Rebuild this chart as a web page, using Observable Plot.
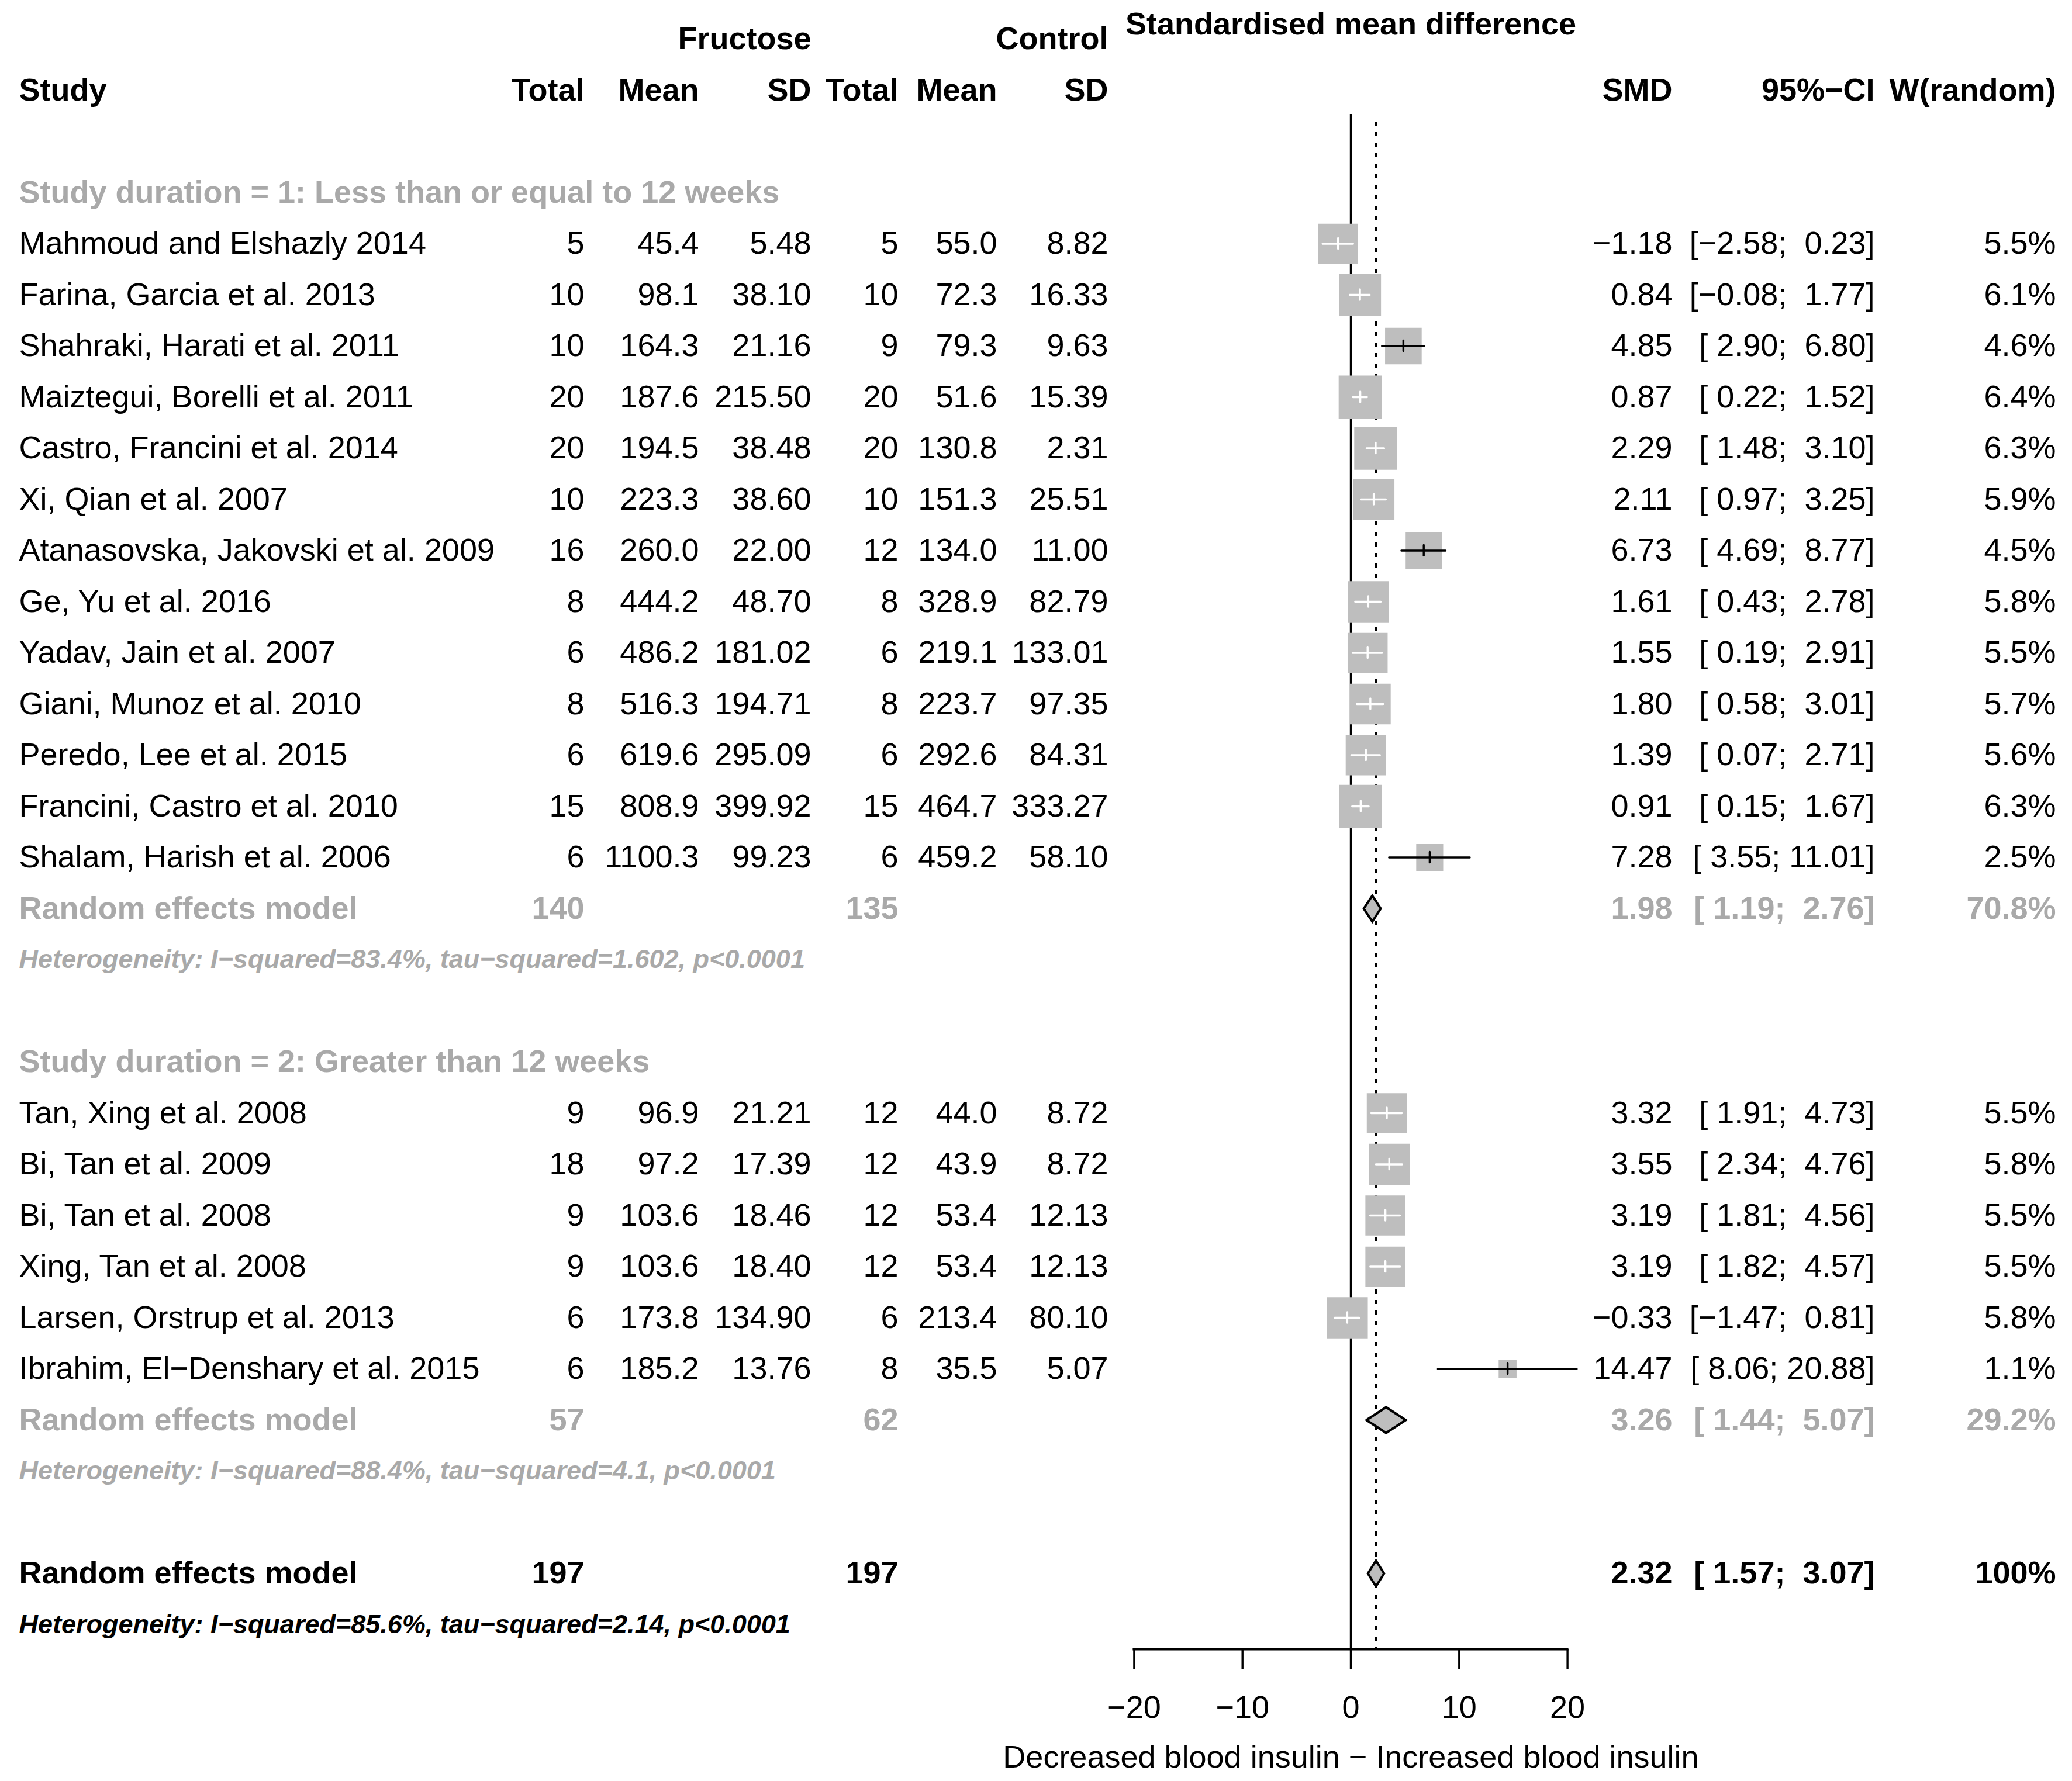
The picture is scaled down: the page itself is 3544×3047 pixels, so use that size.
<!DOCTYPE html>
<html>
<head>
<meta charset="utf-8">
<script src="https://cdn.jsdelivr.net/npm/d3@7"></script>
<script src="https://cdn.jsdelivr.net/npm/@observablehq/plot@0.6"></script>
<style>
  html, body { margin: 0; padding: 0; background: #ffffff; }
  svg { display: block; }
</style>
</head>
<body>
<div id="chart"></div>
<script>
// ---------------- DATA ----------------
const studyNames = [
  "Mahmoud and Elshazly 2014",
  "Farina, Garcia et al. 2013",
  "Shahraki, Harati et al. 2011",
  "Maiztegui, Borelli et al. 2011",
  "Castro, Francini et al. 2014",
  "Xi, Qian et al. 2007",
  "Atanasovska, Jakovski et al. 2009",
  "Ge, Yu et al. 2016",
  "Yadav, Jain et al. 2007",
  "Giani, Munoz et al. 2010",
  "Peredo, Lee et al. 2015",
  "Francini, Castro et al. 2010",
  "Shalam, Harish et al. 2006",
  "Tan, Xing et al. 2008",
  "Bi, Tan et al. 2009",
  "Bi, Tan et al. 2008",
  "Xing, Tan et al. 2008",
  "Larsen, Orstrup et al. 2013",
  "Ibrahim, El\u2212Denshary et al. 2015"
];
const studyGroup     = [1,1,1,1,1,1,1,1,1,1,1,1,1, 2,2,2,2,2,2];
const fructoseTotal  = [5, 10, 10, 20, 20, 10, 16, 8, 6, 8, 6, 15, 6, 9, 18, 9, 9, 6, 6];
const fructoseMean   = [45.4, 98.1, 164.3, 187.6, 194.5, 223.3, 260.0, 444.2, 486.2, 516.3, 619.6, 808.9, 1100.3, 96.9, 97.2, 103.6, 103.6, 173.8, 185.2];
const fructoseSD     = [5.48, 38.10, 21.16, 215.50, 38.48, 38.60, 22.00, 48.70, 181.02, 194.71, 295.09, 399.92, 99.23, 21.21, 17.39, 18.46, 18.40, 134.90, 13.76];
const controlTotal   = [5, 10, 9, 20, 20, 10, 12, 8, 6, 8, 6, 15, 6, 12, 12, 12, 12, 6, 8];
const controlMean    = [55.0, 72.3, 79.3, 51.6, 130.8, 151.3, 134.0, 328.9, 219.1, 223.7, 292.6, 464.7, 459.2, 44.0, 43.9, 53.4, 53.4, 213.4, 35.5];
const controlSD      = [8.82, 16.33, 9.63, 15.39, 2.31, 25.51, 11.00, 82.79, 133.01, 97.35, 84.31, 333.27, 58.10, 8.72, 8.72, 12.13, 12.13, 80.10, 5.07];
const smdValues      = [-1.18, 0.84, 4.85, 0.87, 2.29, 2.11, 6.73, 1.61, 1.55, 1.80, 1.39, 0.91, 7.28, 3.32, 3.55, 3.19, 3.19, -0.33, 14.47];
const ciLower        = [-2.58, -0.08, 2.90, 0.22, 1.48, 0.97, 4.69, 0.43, 0.19, 0.58, 0.07, 0.15, 3.55, 1.91, 2.34, 1.81, 1.82, -1.47, 8.06];
const ciUpper        = [0.23, 1.77, 6.80, 1.52, 3.10, 3.25, 8.77, 2.78, 2.91, 3.01, 2.71, 1.67, 11.01, 4.73, 4.76, 4.56, 4.57, 0.81, 20.88];
const weightRandom   = [5.5, 6.1, 4.6, 6.4, 6.3, 5.9, 4.5, 5.8, 5.5, 5.7, 5.6, 6.3, 2.5, 5.5, 5.8, 5.5, 5.5, 5.8, 1.1];

const groupLabels = [
  "Study duration = 1: Less than or equal to 12 weeks",
  "Study duration = 2: Greater than 12 weeks"
];
const groupTotalF  = [140, 57];
const groupTotalC  = [135, 62];
const groupSMD     = [1.98, 3.26];
const groupLower   = [1.19, 1.44];
const groupUpper   = [2.76, 5.07];
const groupWeight  = [70.8, 29.2];
const groupHet = [
  "Heterogeneity: I\u2212squared=83.4%, tau\u2212squared=1.602, p<0.0001",
  "Heterogeneity: I\u2212squared=88.4%, tau\u2212squared=4.1, p<0.0001"
];

const overallLabel  = "Random effects model";
const overallTotalF = 197;
const overallTotalC = 197;
const overallSMD    = 2.32;
const overallLower  = 1.57;
const overallUpper  = 3.07;
const overallWeight = 100;
const overallHet    = "Heterogeneity: I\u2212squared=85.6%, tau\u2212squared=2.14, p<0.0001";

const groupHeaderTop = ["Fructose", "Control"];
const columnHeaders  = ["Study", "Total", "Mean", "SD", "Total", "Mean", "SD", "SMD", "95%\u2212CI", "W(random)"];
const xTicks = [-20, -10, 0, 10, 20];
const plotTitle = "Standardised mean difference";
const axisLabel = "Decreased blood insulin \u2212 Increased blood insulin";

// ---------------- LAYOUT ----------------
const W = 3544, H = 3047;
const rowTop = 154, rowH = 87.5;
const xLeftPx = 1939.4, xRightPx = 2680.6;
const axisPx = 2821;
const marginLeft = xLeftPx, marginRight = W - xRightPx, marginBottom = H - axisPx;
const pxPerUnit = (xRightPx - xLeftPx) / 40;
const colPx     = [32, 999, 1195, 1387, 1536, 1705, 1895, 2860, 3206, 3516];
const colAnchor = ["start", "end", "end", "end", "end", "end", "end", "end", "end", "end"];
const FS = 54, FS_HET = 45;
const GRAY_TXT = "#a9a9a9", SQ = "#bebebe", LW = 3.4;
const NB = "\u00a0";

const fmt = (v, d) => v.toFixed(d).replace("-", "\u2212");
const pad = (s, n) => s.padStart(n, NB);
const ciText = (lo, hi) => "[" + pad(fmt(lo, 2), 5) + ";" + NB + pad(fmt(hi, 2), 5) + "]";
const wText = w => (Number.isInteger(w) ? String(w) : w.toFixed(1)) + "%";
const sidePx = w => 29.2 * Math.sqrt(w);

// ---------------- BUILD ROWS ----------------
const cells = [];
const studyData = [];
const summaries = [];
const add = (row, col, text, fill, style) => cells.push({row, col, text, fill, style});

add(-1, 3, groupHeaderTop[0], "black", "bold");
add(-1, 6, groupHeaderTop[1], "black", "bold");
columnHeaders.forEach((h, c) => add(0, c, h, "black", "bold"));

let r = 0;
[1, 2].forEach((g, gi) => {
  r += 2;
  add(r, 0, groupLabels[gi], GRAY_TXT, "bold");
  studyNames.forEach((name, i) => {
    if (studyGroup[i] !== g) return;
    r += 1;
    const vals = [name, String(fructoseTotal[i]), fructoseMean[i].toFixed(1), fructoseSD[i].toFixed(2),
      String(controlTotal[i]), controlMean[i].toFixed(1), controlSD[i].toFixed(2),
      fmt(smdValues[i], 2), ciText(ciLower[i], ciUpper[i]), wText(weightRandom[i])];
    vals.forEach((v, c) => add(r, c, v, "black", "normal"));
    const half = sidePx(weightRandom[i]) / 2 / pxPerUnit;
    const inside = ciLower[i] >= smdValues[i] - half && ciUpper[i] <= smdValues[i] + half;
    studyData.push({row: r, smd: smdValues[i], lo: ciLower[i], hi: ciUpper[i], w: weightRandom[i],
      col: inside ? "white" : "black"});
  });
  r += 1;
  [overallLabel, String(groupTotalF[gi]), "", "", String(groupTotalC[gi]), "", "",
    fmt(groupSMD[gi], 2), ciText(groupLower[gi], groupUpper[gi]), wText(groupWeight[gi])]
    .forEach((v, c) => v && add(r, c, v, GRAY_TXT, "bold"));
  summaries.push({id: "g" + g, row: r, est: groupSMD[gi], lo: groupLower[gi], hi: groupUpper[gi]});
  r += 1;
  add(r, 0, groupHet[gi], GRAY_TXT, "het");
});
r += 2;
[overallLabel, String(overallTotalF), "", "", String(overallTotalC), "", "",
  fmt(overallSMD, 2), ciText(overallLower, overallUpper), wText(overallWeight)]
  .forEach((v, c) => v && add(r, c, v, "black", "bold"));
summaries.push({id: "all", row: r, est: overallSMD, lo: overallLower, hi: overallUpper});
r += 1;
add(r, 0, overallHet, "black", "het");
const lastRow = r;

const toRow = px => (px - rowTop) / rowH;
const axisRow = toRow(axisPx);
const dHalf = 22 / rowH;
const diamondPts = summaries.flatMap(s => [
  {id: s.id, x: s.lo, y: s.row}, {id: s.id, x: s.est, y: s.row - dHalf},
  {id: s.id, x: s.hi, y: s.row}, {id: s.id, x: s.est, y: s.row + dHalf},
  {id: s.id, x: s.lo, y: s.row}
]);
const tHalf = 9 / rowH;

// ---------------- MARKS ----------------
const textMarks = [];
const styles = {
  normal: {fontWeight: "normal", fontStyle: "normal", fontSize: FS},
  bold:   {fontWeight: "bold", fontStyle: "normal", fontSize: FS},
  het:    {fontWeight: "bold", fontStyle: "italic", fontSize: FS_HET}
};
colPx.forEach((px, c) => {
  Object.entries(styles).forEach(([key, st]) => {
    const sub = cells.filter(d => d.col === c && d.style === key);
    if (!sub.length) return;
    textMarks.push(Plot.text(sub, {
      y: "row", text: "text", fill: "fill",
      frameAnchor: "left", dx: px - marginLeft, textAnchor: colAnchor[c],
      lineAnchor: "middle", ...st
    }));
  });
});

const chart = Plot.plot({
  width: W, height: H,
  marginLeft, marginRight, marginTop: 0, marginBottom,
  style: {fontFamily: "'Liberation Sans', Arial, Helvetica, sans-serif", fontSize: FS + "px", background: "white", color: "black"},
  x: {domain: [-20, 20], axis: null},
  y: {domain: [0, lastRow], range: [rowTop, rowTop + lastRow * rowH], axis: null},
  color: {type: "identity"},
  r: {type: "identity"},
  marks: [
    Plot.ruleX([0], {y1: toRow(195), y2: axisRow, stroke: "black", strokeWidth: LW}),
    Plot.ruleX([overallSMD], {y1: toRow(208), y2: axisRow, stroke: "black", strokeWidth: LW, strokeDasharray: "7,11"}),
    Plot.dot(studyData, {x: "smd", y: "row", r: d => sidePx(d.w) / Math.sqrt(Math.PI), symbol: "square", fill: SQ, stroke: null}),
    Plot.ruleY(studyData, {y: "row", x1: "lo", x2: "hi", stroke: "col", strokeWidth: LW, strokeLinecap: "round"}),
    Plot.ruleX(studyData, {x: "smd", y1: d => d.row - tHalf, y2: d => d.row + tHalf, stroke: "col", strokeWidth: LW, strokeLinecap: "round"}),
    Plot.line(diamondPts, {x: "x", y: "y", z: "id", fill: SQ, stroke: "black", strokeWidth: 4, strokeLinejoin: "miter", strokeMiterlimit: 10}),
    Plot.ruleY([axisRow], {stroke: "black", strokeWidth: 4, strokeLinecap: "square"}),
    Plot.axisX({ticks: xTicks, tickSize: 35, tickPadding: 44, fontSize: FS, strokeWidth: LW, label: null}),
    Plot.text([axisLabel], {x: () => 0, frameAnchor: "bottom", dy: 185, fontSize: FS, lineAnchor: "middle", fill: "black"}),
    Plot.text([plotTitle], {x: () => 0, frameAnchor: "top", dy: 41, fontSize: FS, fontWeight: "bold", lineAnchor: "middle", fill: "black"}),
    ...textMarks
  ]
});
document.getElementById("chart").appendChild(chart);
</script>
</body>
</html>
